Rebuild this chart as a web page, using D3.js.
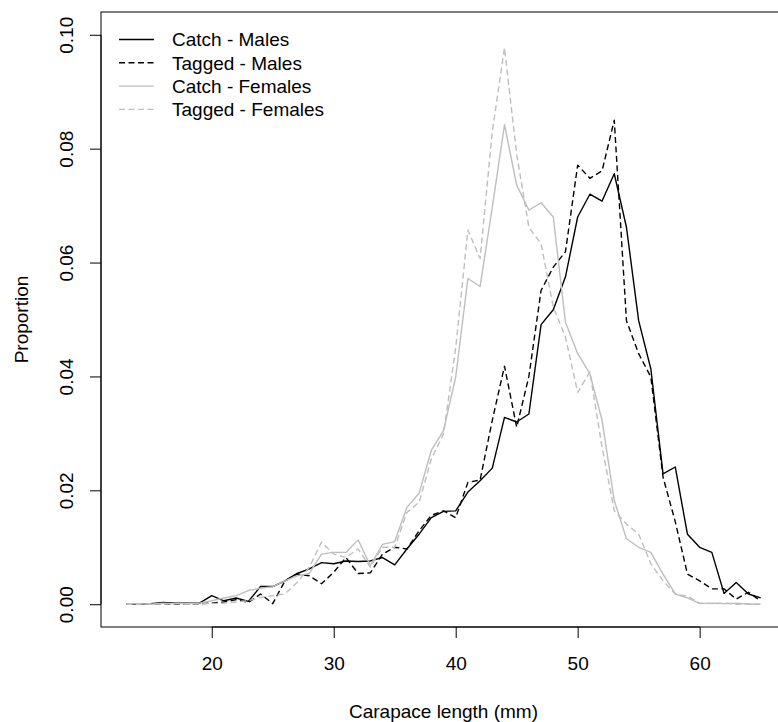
<!DOCTYPE html>
<html>
<head>
<meta charset="utf-8">
<script src="https://cdn.jsdelivr.net/npm/d3@7"></script>
<style>
	body { margin: 0; background: white; }
	svg { display: block; font-family: "Liberation Sans", Arial, sans-serif; }
</style>
</head>
<body>
<div id="linechart"></div>
<script>
var lengths = d3.range(13, 66)

var catchMales = [0.0001, 0.0000, 0.0001, 0.0003, 0.0002, 0.0002, 0.0002, 0.0015, 0.0006, 0.0011,
	0.0005, 0.0031, 0.0031, 0.0041, 0.0054, 0.0062, 0.0073, 0.0071, 0.0076, 0.0075,
	0.0076, 0.0082, 0.0069, 0.0097, 0.0123, 0.0152, 0.0163, 0.0164, 0.0197, 0.0217,
	0.0239, 0.0328, 0.0320, 0.0334, 0.0491, 0.0517, 0.0575, 0.0680, 0.0720, 0.0708,
	0.0756, 0.0662, 0.0498, 0.0413, 0.0229, 0.0241, 0.0123, 0.0100, 0.0091, 0.0019,
	0.0038, 0.0018, 0.0011]

var taggedMales = [0.0000, 0.0000, 0.0000, 0.0001, 0.0000, 0.0000, 0.0001, 0.0002, 0.0004, 0.0008,
	0.0003, 0.0018, 0.0001, 0.0041, 0.0053, 0.0050, 0.0036, 0.0056, 0.0082, 0.0054,
	0.0055, 0.0088, 0.0100, 0.0097, 0.0129, 0.0156, 0.0164, 0.0152, 0.0214, 0.0218,
	0.0323, 0.0418, 0.0311, 0.0400, 0.0551, 0.0592, 0.0619, 0.0771, 0.0748, 0.0761,
	0.0850, 0.0498, 0.0440, 0.0399, 0.0223, 0.0145, 0.0053, 0.0041, 0.0027, 0.0027,
	0.0009, 0.0021, 0.0006]

var catchFemales = [0.0001, 0.0001, 0.0000, 0.0002, 0.0001, 0.0001, 0.0002, 0.0006, 0.0011, 0.0015,
	0.0024, 0.0028, 0.0031, 0.0041, 0.0050, 0.0054, 0.0088, 0.0091, 0.0091, 0.0113,
	0.0068, 0.0105, 0.0110, 0.0170, 0.0195, 0.0270, 0.0305, 0.0399, 0.0572, 0.0558,
	0.0697, 0.0842, 0.0736, 0.0692, 0.0705, 0.0680, 0.0495, 0.0440, 0.0405, 0.0323,
	0.0182, 0.0115, 0.0100, 0.0091, 0.0053, 0.0018, 0.0011, 0.0001, 0.0002, 0.0001,
	0.0002, 0.0000, 0.0000]

var taggedFemales = [0.0000, 0.0000, 0.0001, 0.0000, 0.0001, 0.0000, 0.0001, 0.0001, 0.0002, 0.0004,
	0.0006, 0.0012, 0.0015, 0.0018, 0.0038, 0.0065, 0.0109, 0.0088, 0.0082, 0.0097,
	0.0065, 0.0100, 0.0100, 0.0161, 0.0179, 0.0255, 0.0299, 0.0450, 0.0657, 0.0607,
	0.0830, 0.0977, 0.0790, 0.0662, 0.0633, 0.0522, 0.0469, 0.0372, 0.0408, 0.0276,
	0.0164, 0.0141, 0.0123, 0.0071, 0.0041, 0.0018, 0.0014, 0.0002, 0.0001, 0.0002,
	0.0000, 0.0001, 0.0000]

var seriesNames = ["Catch - Males", "Tagged - Males", "Catch - Females", "Tagged - Females"]
var xTicks = [20, 30, 40, 50, 60]
var yTicks = [0, 0.02, 0.04, 0.06, 0.08, 0.10]

drawChart()

function drawChart() {

	var data = [
		{ name: seriesNames[0], values: catchMales, color: "black", dash: null },
		{ name: seriesNames[1], values: taggedMales, color: "black", dash: "6,3.5" },
		{ name: seriesNames[2], values: catchFemales, color: "#bebebe", dash: null },
		{ name: seriesNames[3], values: taggedFemales, color: "#bebebe", dash: "6,3.5" }
	]

	var svg = d3.select("#linechart")
		.append("svg")
		.attr("width", 778)
		.attr("height", 722)

	// R style: 4% padding on both axes
	var left = 101, right = 786, top = 12, bottom = 627

	const xScale = d3.scaleLinear()
		.domain([13 - 0.04 * 52, 65 + 0.04 * 52])
		.range([left, right])

	const yScale = d3.scaleLinear()
		.domain([-0.004, 0.104])
		.range([bottom, top])

	// x axis
	var gX = svg.append("g")
		.attr("transform", `translate(0,${bottom})`)
		.call(d3.axisBottom(xScale).tickValues(xTicks).tickSize(11).tickFormat(d3.format("d")))
	gX.select(".domain").remove()
	gX.append("line")
		.attr("x1", xScale(20)).attr("x2", xScale(60))
		.attr("stroke", "black")
	gX.selectAll(".tick line").attr("stroke", "black")
	gX.selectAll(".tick text")
		.attr("y", 43)
		.attr("dy", 0)
		.style("font-size", "19px")
		.style("font-family", "Liberation Sans, Arial, sans-serif")
		.style("fill", "black")

	// y axis
	var gY = svg.append("g")
		.attr("transform", `translate(${left},0)`)
		.call(d3.axisLeft(yScale).tickValues(yTicks).tickSize(11).tickFormat(d3.format(".2f")))
	gY.select(".domain").remove()
	gY.append("line")
		.attr("y1", yScale(0)).attr("y2", yScale(0.1))
		.attr("stroke", "black")
	gY.selectAll(".tick line").attr("stroke", "black")
	gY.selectAll(".tick text")
		.attr("x", 0)
		.attr("dy", 0)
		.attr("transform", "translate(-28,0) rotate(-90)")
		.style("text-anchor", "middle")
		.style("font-size", "19px")
		.style("font-family", "Liberation Sans, Arial, sans-serif")
		.style("fill", "black")

	// box
	svg.append("rect")
		.attr("x", left)
		.attr("y", top)
		.attr("width", right - left)
		.attr("height", bottom - top)
		.attr("fill", "none")
		.attr("stroke", "black")
		.attr("stroke-width", 1)

	// axis titles
	svg.append("text")
		.attr("x", (left + right) / 2)
		.attr("y", 718)
		.style("text-anchor", "middle")
		.style("font-size", "19px")
		.text("Carapace length (mm)")

	svg.append("text")
		.attr("transform", `translate(28,${(top + bottom) / 2}) rotate(-90)`)
		.style("text-anchor", "middle")
		.style("font-size", "19px")
		.text("Proportion")

	const line = d3.line()
		.x((d, i) => xScale(lengths[i]))
		.y(d => yScale(d))

	svg.append("g")
		.attr("class", "Lines")
		.selectAll("path")
		.data(data)
		.enter()
		.append("path")
		.attr("d", d => line(d.values))
		.attr("stroke", d => d.color)
		.attr("stroke-width", 1.4)
		.attr("stroke-dasharray", d => d.dash)
		.attr("stroke-linejoin", "round")
		.attr("fill", "none")

	// legend
	var legend = svg.append("g")
		.selectAll("g")
		.data(data)
		.enter()
		.append("g")
		.attr("transform", (d, i) => `translate(0,${39.5 + i * 23.3})`)

	legend.append("line")
		.attr("x1", 119)
		.attr("x2", 154)
		.attr("stroke", d => d.color)
		.attr("stroke-width", 1.4)
		.attr("stroke-dasharray", d => d.dash)

	legend.append("text")
		.attr("x", 172)
		.attr("y", 6.8)
		.style("font-size", "19px")
		.text(d => d.name)
}
</script>
</body>
</html>
